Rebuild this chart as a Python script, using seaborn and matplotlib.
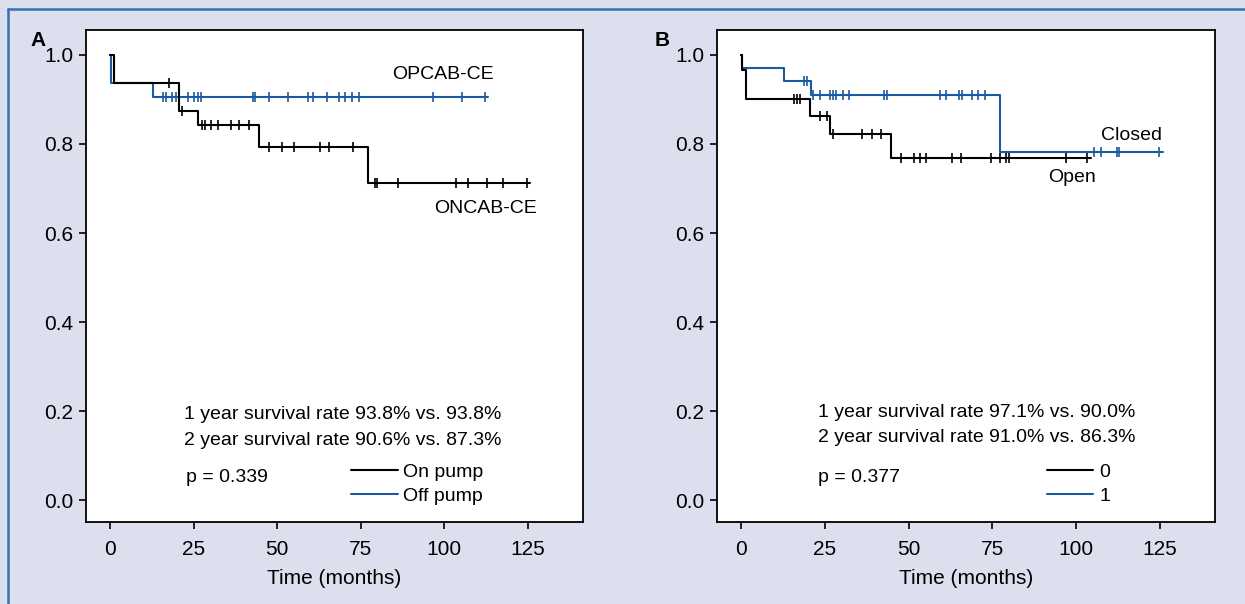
import numpy as np
import pandas as pd
import seaborn as sns
import matplotlib.pyplot as plt
from matplotlib.lines import Line2D

sns.set_style("ticks")
plt.rcParams['font.family'] = ['Liberation Sans', 'DejaVu Sans']
plt.rcParams['text.color'] = 'black'
plt.rcParams['axes.labelcolor'] = 'black'
plt.rcParams['xtick.color'] = 'black'
plt.rcParams['ytick.color'] = 'black'

BLUE = "#1b5aa0"

# panel A - on pump (black) / off pump (blue)
a_on_events = [1.2, 20.6, 26.2, 44.6, 77.2]
a_on_levels = [0.938, 0.873, 0.842, 0.794, 0.713]
a_on_end = 125.5
a_on_cens = [17.7, 21.6, 27.4, 28.4, 30.2, 32.2, 36.1, 38.7, 41.7, 47.5, 51.5,
             55.1, 62.8, 65.6, 72.8, 79.2, 80.0, 86.2, 103.5, 107.2, 112.9,
             117.6, 124.8]
a_off_events = [0.3, 12.8]
a_off_levels = [0.938, 0.906]
a_off_end = 113.0
a_off_cens = [15.7, 16.7, 18.4, 19.6, 23.4, 25.2, 26.2, 27.2, 42.7, 43.5, 47.5,
              53.3, 59.3, 60.6, 64.8, 68.5, 70.3, 72.3, 74.5, 96.7, 105.4, 112.1]

# panel B - open (0, black) / closed (1, blue)
b_0_events = [0.3, 1.4, 20.5, 26.4, 44.9]
b_0_levels = [0.967, 0.900, 0.863, 0.822, 0.769]
b_0_end = 104.6
b_0_cens = [15.9, 16.7, 17.6, 23.6, 25.6, 27.4, 36.1, 39.1, 41.9, 47.8, 51.5,
            53.5, 55.3, 63.0, 65.7, 74.7, 77.4, 79.1, 80.1, 96.9, 103.4]
b_1_events = [0.3, 12.9, 20.8, 77.3]
b_1_levels = [0.971, 0.942, 0.910, 0.783]
b_1_end = 126.0
b_1_cens = [18.9, 19.6, 21.4, 23.6, 26.4, 27.4, 28.4, 30.4, 32.3, 42.8, 43.6,
            59.3, 61.3, 65.0, 65.9, 68.8, 70.6, 72.9, 105.4, 107.4, 112.1,
            112.9, 124.9]


def km(ax, events, levels, end, cens, color, label):
    df = pd.DataFrame({"t": [0.0] + events + [end],
                       "s": [1.0] + levels + [levels[-1]]})
    sns.lineplot(data=df, x="t", y="s", drawstyle="steps-post", estimator=None,
                 sort=False, color=color, lw=1.5, label=label, ax=ax)
    lv = np.array([1.0] + levels)
    ys = lv[np.searchsorted(events, cens, side="right")]
    sns.scatterplot(x=cens, y=ys, marker="|", s=55, linewidth=1.2, color=color,
                    ax=ax, zorder=3, legend=False)


fig = plt.figure(figsize=(12.45, 6.04), dpi=100, facecolor="#dcdfee")
axA = fig.add_axes([86 / 1245, 82 / 604, 497 / 1245, 492 / 604])
axB = fig.add_axes([717 / 1245, 82 / 604, 498 / 1245, 492 / 604])

km(axA, a_off_events, a_off_levels, a_off_end, a_off_cens, BLUE, "Off pump")
km(axA, a_on_events, a_on_levels, a_on_end, a_on_cens, "black", "On pump")
km(axB, b_1_events, b_1_levels, b_1_end, b_1_cens, BLUE, "1")
km(axB, b_0_events, b_0_levels, b_0_end, b_0_cens, "black", "0")

fs = 14    # text inside the plots
tfs = 15   # ticks and axis labels
for ax in (axA, axB):
    ax.set_xlim(-7.2, 141.5)
    ax.set_ylim(-0.049, 1.056)
    ax.set_xticks([0, 25, 50, 75, 100, 125])
    ax.set_yticks([0.0, 0.2, 0.4, 0.6, 0.8, 1.0])
    ax.set_yticklabels(["0.0", "0.2", "0.4", "0.6", "0.8", "1.0"])
    ax.tick_params(labelsize=tfs, length=5, width=1.2, color="black")
    ax.tick_params(axis="x", pad=8)
    ax.tick_params(axis="y", pad=4)
    ax.set_xlabel("Time (months)", fontsize=tfs, labelpad=7)
    ax.set_ylabel("")
    for sp in ax.spines.values():
        sp.set_visible(True)
        sp.set_linewidth(1.3)
        sp.set_color("black")
    h, l = ax.get_legend_handles_labels()
    ax.legend(h[::-1], l[::-1], frameon=False, fontsize=fs, loc="center left",
              handlelength=2.4, handletextpad=0.3, labelspacing=0.3,
              borderpad=0, borderaxespad=0)

axA.get_legend().set_bbox_to_anchor((0.533, 0.077), transform=axA.transAxes)
axB.get_legend().set_bbox_to_anchor((0.662, 0.077), transform=axB.transAxes)

axA.text(22.1, 0.192, "1 year survival rate 93.8% vs. 93.8%", fontsize=fs, va="center")
axA.text(22.1, 0.135, "2 year survival rate 90.6% vs. 87.3%", fontsize=fs, va="center")
axA.text(22.7, 0.052, "p = 0.339", fontsize=fs, va="center")
axA.text(84.3, 0.955, "OPCAB-CE", fontsize=fs, va="center")
axA.text(96.9, 0.656, "ONCAB-CE", fontsize=fs, va="center")

axB.text(23.0, 0.196, "1 year survival rate 97.1% vs. 90.0%", fontsize=fs, va="center")
axB.text(23.0, 0.140, "2 year survival rate 91.0% vs. 86.3%", fontsize=fs, va="center")
axB.text(23.0, 0.050, "p = 0.377", fontsize=fs, va="center")
axB.text(107.4, 0.820, "Closed", fontsize=fs, va="center")
axB.text(91.8, 0.724, "Open", fontsize=fs, va="center")

fig.text(30 / 1245, 1 - 40 / 604, "A", fontsize=tfs, fontweight="bold", va="center")
fig.text(655 / 1245, 1 - 40 / 604, "B", fontsize=tfs, fontweight="bold", va="center")

fig.add_artist(Line2D([8 / 1245, 1], [1 - 9 / 604, 1 - 9 / 604], color="#3a6fb5", lw=1.8))
fig.add_artist(Line2D([8 / 1245, 8 / 1245], [0, 1 - 9 / 604], color="#3a6fb5", lw=1.8))

fig.savefig("out.png", dpi=100, facecolor=fig.get_facecolor())
